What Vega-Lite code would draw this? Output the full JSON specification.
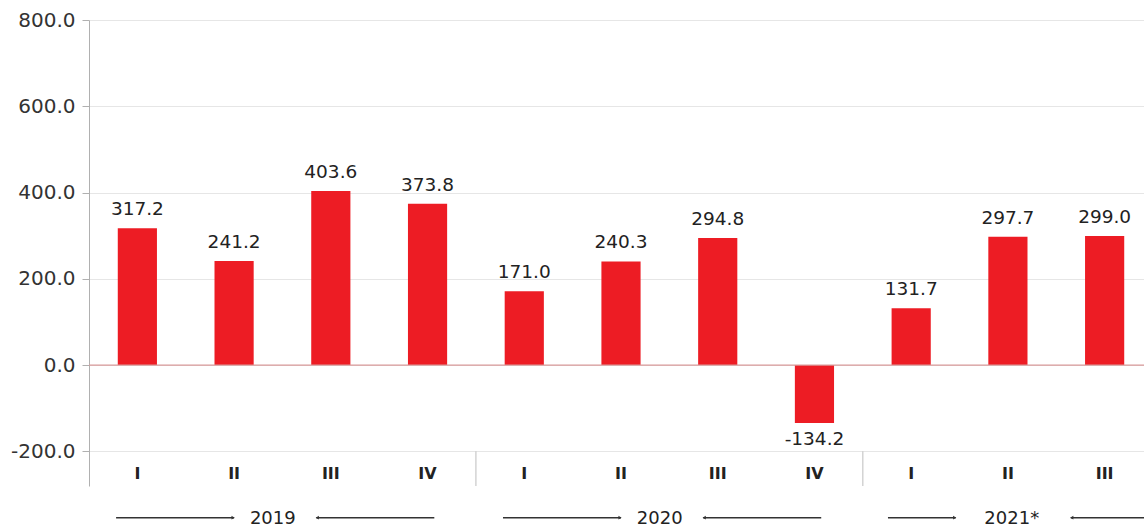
{
  "$schema": "https://vega.github.io/schema/vega-lite/v6.json",
  "width": 1055,
  "height": 466,
  "autosize": {"type": "none"},
  "padding": {"left": 89, "top": 20, "right": 0, "bottom": 46},
  "config": {
    "view": {"stroke": null},
    "font": "DejaVu Sans",
    "locale": {"number": {"decimal": ".", "thousands": ",", "grouping": [3], "currency": ["", ""], "minus": "-"}}
  },
  "datasets": {
    "quarters": [
      {"period": "2019-I", "year": "2019", "quarter": "I", "value": 317.2},
      {"period": "2019-II", "year": "2019", "quarter": "II", "value": 241.2},
      {"period": "2019-III", "year": "2019", "quarter": "III", "value": 403.6},
      {"period": "2019-IV", "year": "2019", "quarter": "IV", "value": 373.8},
      {"period": "2020-I", "year": "2020", "quarter": "I", "value": 171.0},
      {"period": "2020-II", "year": "2020", "quarter": "II", "value": 240.3},
      {"period": "2020-III", "year": "2020", "quarter": "III", "value": 294.8},
      {"period": "2020-IV", "year": "2020", "quarter": "IV", "value": -134.2},
      {"period": "2021-I", "year": "2021", "quarter": "I", "value": 131.7},
      {"period": "2021-II", "year": "2021", "quarter": "II", "value": 297.7},
      {"period": "2021-III", "year": "2021", "quarter": "III", "value": 299.0}
    ],
    "separators": [{"period": "2020-I"}, {"period": "2021-I"}],
    "years": [
      {"label": "2019", "first": "2019-I", "second": "2019-II", "third": "2019-III", "fourth": "2019-IV"},
      {"label": "2020", "first": "2020-I", "second": "2020-II", "third": "2020-III", "fourth": "2020-IV"}
    ],
    "single": [{"label": "2021*"}]
  },
  "layer": [
    {
      "data": {"name": "quarters"},
      "mark": {"type": "bar", "color": "#ed1c24", "width": {"band": 0.405}},
      "encoding": {
        "x": {
          "field": "period", "type": "nominal", "axis": null,
          "scale": {
            "domain": ["2019-I","2019-II","2019-III","2019-IV","2020-I","2020-II","2020-III","2020-IV","2021-I","2021-II","2021-III"],
            "range": [0, 1064], "paddingInner": 0, "paddingOuter": 0
          }
        },
        "y": {
          "field": "value", "type": "quantitative",
          "scale": {"domain": [-280.5, 800], "nice": false, "zero": false},
          "axis": {
            "title": null, "values": [-200, 0, 200, 400, 600, 800], "format": ".1f",
            "labelFontSize": 20, "labelColor": "#333333", "labelPadding": 7,
            "tickSize": 7, "tickColor": "#b0b0b0", "domainColor": "#b0b0b0",
            "grid": true, "gridColor": "#e6e6e6"
          }
        },
        "y2": {"datum": 0}
      }
    },
    {
      "data": {"name": "single"},
      "mark": {"type": "rule", "color": "#d99a9a", "strokeWidth": 1.2},
      "encoding": {"y": {"datum": 0}}
    },
    {
      "data": {"name": "quarters"},
      "transform": [{"filter": "datum.value >= 0"}],
      "mark": {"type": "text", "baseline": "alphabetic", "dy": -13, "fontSize": 18.5, "color": "#222222"},
      "encoding": {
        "x": {"field": "period", "type": "nominal"},
        "y": {"field": "value", "type": "quantitative"},
        "text": {"field": "value", "type": "quantitative", "format": ".1f"}
      }
    },
    {
      "data": {"name": "quarters"},
      "transform": [{"filter": "datum.value < 0"}],
      "mark": {"type": "text", "baseline": "alphabetic", "dy": 22, "fontSize": 18.5, "color": "#222222"},
      "encoding": {
        "x": {"field": "period", "type": "nominal"},
        "y": {"field": "value", "type": "quantitative"},
        "text": {"field": "value", "type": "quantitative", "format": ".1f"}
      }
    },
    {
      "data": {"name": "quarters"},
      "mark": {"type": "text", "baseline": "middle", "fontSize": 16, "fontWeight": "bold", "color": "#222222"},
      "encoding": {
        "x": {"field": "period", "type": "nominal"},
        "y": {"datum": -253.3},
        "text": {"field": "quarter"}
      }
    },
    {
      "data": {"name": "separators"},
      "mark": {"type": "rule", "color": "#c8c8c8", "strokeWidth": 1.2},
      "encoding": {
        "x": {"field": "period", "type": "nominal", "bandPosition": 0},
        "y": {"datum": -200},
        "y2": {"datum": -280.5}
      }
    },
    {
      "data": {"name": "years"},
      "mark": {"type": "text", "baseline": "middle", "fontSize": 18, "color": "#222222"},
      "encoding": {
        "x": {"field": "second", "type": "nominal", "bandPosition": 0.9},
        "y": {"datum": -357.7},
        "text": {"field": "label"}
      }
    },
    {
      "data": {"name": "years"},
      "mark": {"type": "rule", "color": "#333333", "strokeWidth": 1.5},
      "encoding": {
        "x": {"field": "first", "type": "nominal", "bandPosition": 0.28},
        "x2": {"field": "second", "bandPosition": 0.5},
        "y": {"datum": -354}
      }
    },
    {
      "data": {"name": "years"},
      "mark": {"type": "point", "shape": "triangle-right", "filled": true, "size": 14, "color": "#333333", "opacity": 1},
      "encoding": {
        "x": {"field": "second", "type": "nominal", "bandPosition": 0.49},
        "y": {"datum": -354}
      }
    },
    {
      "data": {"name": "years"},
      "mark": {"type": "rule", "color": "#333333", "strokeWidth": 1.5},
      "encoding": {
        "x": {"field": "third", "type": "nominal", "bandPosition": 0.35},
        "x2": {"field": "fourth", "bandPosition": 0.57},
        "y": {"datum": -354}
      }
    },
    {
      "data": {"name": "years"},
      "mark": {"type": "point", "shape": "triangle-left", "filled": true, "size": 14, "color": "#333333", "opacity": 1},
      "encoding": {
        "x": {"field": "third", "type": "nominal", "bandPosition": 0.36},
        "y": {"datum": -354}
      }
    },
    {
      "data": {"name": "single"},
      "mark": {"type": "text", "baseline": "middle", "fontSize": 18, "color": "#222222"},
      "encoding": {
        "x": {"datum": "2021-II", "type": "nominal", "bandPosition": 0.54},
        "y": {"datum": -357.7},
        "text": {"field": "label"}
      }
    },
    {
      "data": {"name": "single"},
      "mark": {"type": "rule", "color": "#333333", "strokeWidth": 1.5},
      "encoding": {
        "x": {"datum": "2021-I", "type": "nominal", "bandPosition": 0.26},
        "x2": {"datum": "2021-I", "bandPosition": 0.96},
        "y": {"datum": -354}
      }
    },
    {
      "data": {"name": "single"},
      "mark": {"type": "point", "shape": "triangle-right", "filled": true, "size": 14, "color": "#333333", "opacity": 1},
      "encoding": {
        "x": {"datum": "2021-I", "type": "nominal", "bandPosition": 0.95},
        "y": {"datum": -354}
      }
    },
    {
      "data": {"name": "single"},
      "mark": {"type": "rule", "color": "#333333", "strokeWidth": 1.5},
      "encoding": {
        "x": {"datum": "2021-III", "type": "nominal", "bandPosition": 0.15},
        "x2": {"datum": "2021-III", "bandPosition": 1.3},
        "y": {"datum": -354}
      }
    },
    {
      "data": {"name": "single"},
      "mark": {"type": "point", "shape": "triangle-left", "filled": true, "size": 14, "color": "#333333", "opacity": 1},
      "encoding": {
        "x": {"datum": "2021-III", "type": "nominal", "bandPosition": 0.16},
        "y": {"datum": -354}
      }
    }
  ]
}
